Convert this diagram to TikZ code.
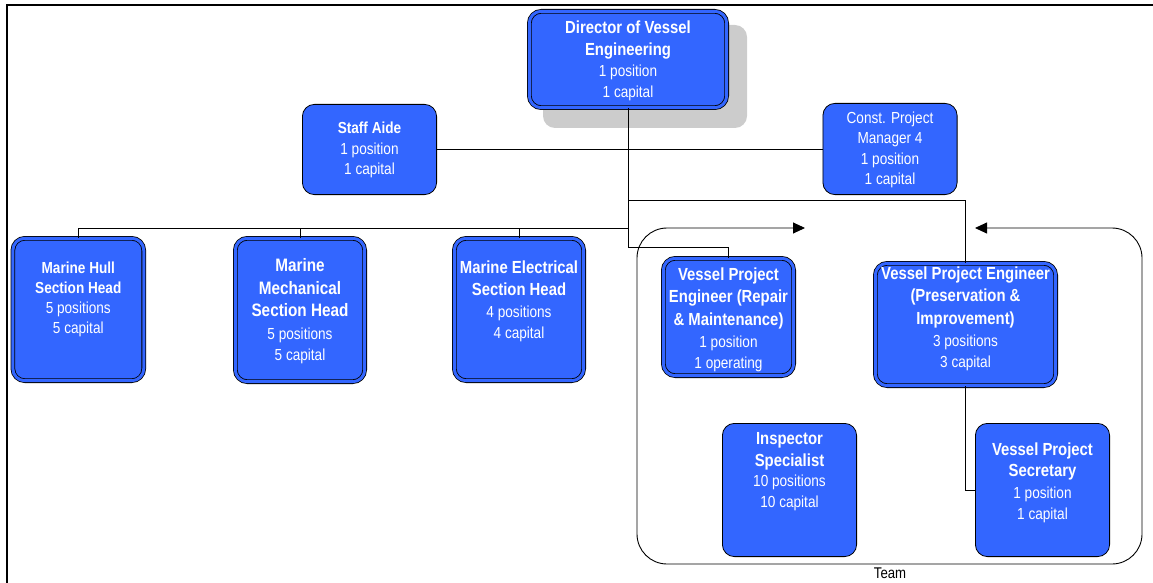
\documentclass[tikz,border=0pt]{standalone}
\usepackage{fontspec}
\setmainfont{Liberation Sans}[FakeStretch=0.85]
\usetikzlibrary{arrows.meta}
\definecolor{boxblue}{HTML}{3366FF}
\definecolor{shgray}{HTML}{CCCCCC}
\newcommand{\ttl}{\fontsize{17.5}{20.5}\selectfont\bfseries}
\newcommand{\tts}{\fontsize{16}{20.5}\selectfont\bfseries}
\newcommand{\ttb}{\fontsize{18}{20.5}\selectfont\bfseries}
\newcommand{\ppl}{\fontsize{16}{20.5}\selectfont\mdseries}
\tikzset{
  box/.style={rectangle, rounded corners=12pt, fill=boxblue, draw=black, line width=0.8pt, inner sep=0pt},
  dbox/.style={box, double=boxblue, double distance=3pt},
  shbox/.style={rectangle, rounded corners=12pt, fill=shgray, inner sep=0pt},
  txt/.style={text=white, align=center, inner sep=0pt, font=\ppl},
  conn/.style={draw=black, line width=0.9pt},
  teamline/.style={conn, >={Triangle[length=12pt,width=11pt]}, <->},
}
\begin{document}
\begin{tikzpicture}[x=1pt,y=-1pt]
\useasboundingbox (0,0) rectangle (1153,583);
% frame
\draw[line width=2pt] (1153,4.7) -- (6.7,4.7) -- (6.7,583);

% team container
\coordinate (teamL) at (805,228);
\coordinate (teamR) at (975,228);
\draw[teamline, rounded corners=30pt] (teamL) -- (637,228) -- (637,564) -- (1142,564) -- (1142,228) -- (teamR);
\node[font=\fontsize{15.5}{17}\selectfont] (teamlbl) at (890,573) {Team};

% boxes
\node[shbox, minimum width=204pt, minimum height=103pt] (dirsh) at (645,76.5) {};
\node[dbox, minimum width=197.4pt, minimum height=96.4pt] (dir) at (628,59.5) {};
\node[box, minimum width=134.2pt, minimum height=90.2pt] (staff) at (369.5,149.5) {};
\node[box, minimum width=134.2pt, minimum height=91.2pt] (cpm) at (890,149) {};
\node[dbox, minimum width=130.9pt, minimum height=142.4pt] (hull) at (78.3,309.5) {};
\node[dbox, minimum width=129.4pt, minimum height=143.4pt] (mech) at (300,310) {};
\node[dbox, minimum width=129.4pt, minimum height=142.4pt] (elec) at (519,309.5) {};
\node[dbox, minimum width=130.4pt, minimum height=117.4pt] (vper) at (728.5,317) {};
\node[dbox, minimum width=180.4pt, minimum height=122.4pt] (vpep) at (965.5,324.5) {};
\node[box, minimum width=134.2pt, minimum height=133.2pt] (insp) at (789.5,490) {};
\node[box, minimum width=134.2pt, minimum height=133.2pt] (secr) at (1042.5,490) {};

% texts
\node[txt] (dirt) at (628,61) {\ttl Director of Vessel\\[1.5pt]\ttl Engineering\\[0.5pt]1 position\\1 capital};
\node[txt] (stafft) at (369.5,150) {\tts Staff Aide\\1 position\\1 capital};
\node[txt] (cpmt) at (890,150) {Const. Project\\Manager 4\\1 position\\1 capital};
\node[txt] (hullt) at (78.3,299.5) {\tts Marine Hull\\[-0.5pt]\tts Section Head\\[-0.5pt]5 positions\\[-0.5pt]5 capital};
\node[txt] (mecht) at (300,311) {\ttb Marine\\[2.5pt]\ttb Mechanical\\[1.5pt]\ttb Section Head\\[2.5pt]5 positions\\[0.5pt]5 capital};
\node[txt] (elect) at (519,301.5) {\ttl Marine Electrical\\[1.5pt]\ttl Section Head\\[1.5pt]4 positions\\4 capital};
\node[txt] (vpert) at (728.5,319.5) {\ttl Vessel Project\\[2pt]\ttl Engineer (Repair\\[2pt]\ttl \&~Maintenance)\\[2pt]1 position\\1 operating};
\node[txt] (vpept) at (965.5,318.5) {\ttl Vessel Project Engineer\\[2pt]\ttl (Preservation \&\\[2pt]\ttl Improvement)\\[2pt]3 positions\\3 capital};
\node[txt] (inspt) at (789.5,471.5) {\ttl Inspector\\[1.5pt]\ttl Specialist\\10 positions\\[0.5pt]10 capital};
\node[txt] (secrt) at (1042.5,482.5) {\ttl Vessel Project\\[1pt]\ttl Secretary\\[1.5pt]1 position\\1 capital};

% connectors
\coordinate (yA) at (0,228);
\coordinate (yB) at (0,200);
\coordinate (yC) at (0,247);
\draw[conn] (dir.south) -- (dir.south |- yC) -| (vper.north);
\draw[conn] (dir.south |- yA) -| (hull.north);
\draw[conn] (dir.south |- yA) -| (mech.north);
\draw[conn] (dir.south |- yA) -| (elec.north);
\draw[conn] (dir.south |- yB) -| (vpep.north);
\draw[conn] (staff.east) -- (staff.east -| cpm.west);
\draw[conn] (vpep.south) |- (secr.west);
\end{tikzpicture}
\end{document}
